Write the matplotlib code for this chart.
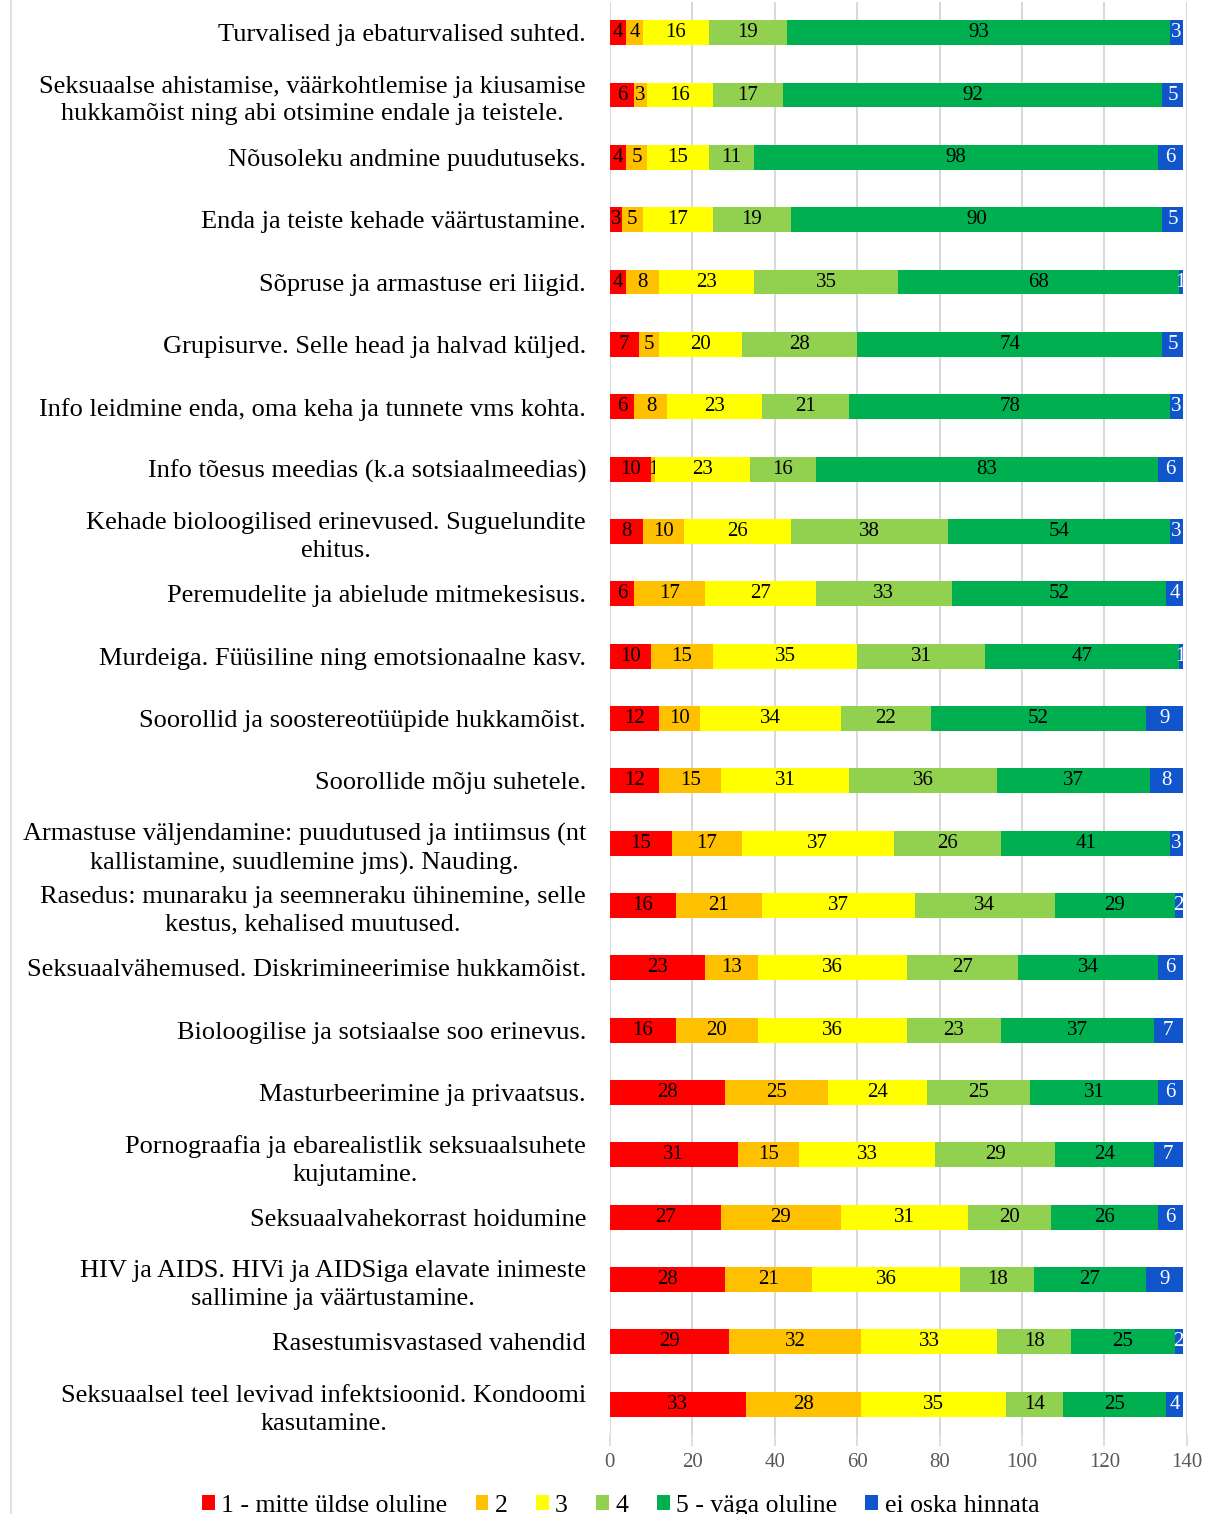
import matplotlib.pyplot as plt
import numpy as np
from matplotlib.lines import Line2D

categories = [
    "Turvalised ja ebaturvalised suhted.",
    "Seksuaalse ahistamise, väärkohtlemise ja kiusamise\nhukkamõist ning abi otsimine endale ja teistele.",
    "Nõusoleku andmine puudutuseks.",
    "Enda ja teiste kehade väärtustamine.",
    "Sõpruse ja armastuse eri liigid.",
    "Grupisurve. Selle head ja halvad küljed.",
    "Info leidmine enda, oma keha ja tunnete vms kohta.",
    "Info tõesus meedias (k.a sotsiaalmeedias)",
    "Kehade bioloogilised erinevused. Suguelundite\nehitus.",
    "Peremudelite ja abielude mitmekesisus.",
    "Murdeiga. Füüsiline ning emotsionaalne kasv.",
    "Soorollid ja soostereotüüpide hukkamõist.",
    "Soorollide mõju suhetele.",
    "Armastuse väljendamine: puudutused ja intiimsus (nt\nkallistamine, suudlemine jms). Nauding.",
    "Rasedus: munaraku ja seemneraku ühinemine, selle\nkestus, kehalised muutused.",
    "Seksuaalvähemused. Diskrimineerimise hukkamõist.",
    "Bioloogilise ja sotsiaalse soo erinevus.",
    "Masturbeerimine ja privaatsus.",
    "Pornograafia ja ebarealistlik seksuaalsuhete\nkujutamine.",
    "Seksuaalvahekorrast hoidumine",
    "HIV ja AIDS. HIVi ja AIDSiga elavate inimeste\nsallimine ja väärtustamine.",
    "Rasestumisvastased vahendid",
    "Seksuaalsel teel levivad infektsioonid. Kondoomi\nkasutamine.",
]

series_names = ["1 - mitte üldse oluline", "2", "3", "4", "5 - väga oluline", "ei oska hinnata"]

s1 = [4, 6, 4, 3, 4, 7, 6, 10, 8, 6, 10, 12, 12, 15, 16, 23, 16, 28, 31, 27, 28, 29, 33]
s2 = [4, 3, 5, 5, 8, 5, 8, 1, 10, 17, 15, 10, 15, 17, 21, 13, 20, 25, 15, 29, 21, 32, 28]
s3 = [16, 16, 15, 17, 23, 20, 23, 23, 26, 27, 35, 34, 31, 37, 37, 36, 36, 24, 33, 31, 36, 33, 35]
s4 = [19, 17, 11, 19, 35, 28, 21, 16, 38, 33, 31, 22, 36, 26, 34, 27, 23, 25, 29, 20, 18, 18, 14]
s5 = [93, 92, 98, 90, 68, 74, 78, 83, 54, 52, 47, 52, 37, 41, 29, 34, 37, 31, 24, 26, 27, 25, 25]
s6 = [3, 5, 6, 5, 1, 5, 3, 6, 3, 4, 1, 9, 8, 3, 2, 6, 7, 6, 7, 6, 9, 2, 4]

colors = ["#FF0000", "#FFC000", "#FFFF00", "#92D050", "#00B050", "#1155CC"]
label_colors = ["black", "black", "black", "black", "black", "white"]

plt.rcParams['font.family'] = ['Liberation Serif', 'DejaVu Serif']

fig = plt.figure(figsize=(12.05, 15.14), dpi=100)
ax = fig.add_axes([0.506, 0.052, 0.479, 0.947])

y = np.arange(len(categories))
left = np.zeros(len(categories))
for name, vals, c, lc in zip(series_names, [s1, s2, s3, s4, s5, s6], colors, label_colors):
    bars = ax.barh(y, vals, left=left, height=0.4, color=c, label=name, zorder=3)
    ax.bar_label(bars, labels=[str(v) for v in vals], label_type='center',
                 fontsize=15, color=lc)
    left += np.array(vals)

ax.set_ylim(len(categories) - 0.5, -0.5)
ax.set_xlim(0, 140)
ax.set_xticks(range(0, 141, 20))
ax.set_yticks(y)
ax.set_yticklabels(categories, fontsize=19, multialignment='center', linespacing=1.35)
ax.tick_params(axis='y', length=0, pad=17)
ax.tick_params(axis='x', colors='#D9D9D9', length=8, width=1.2, labelsize=15,
               labelcolor='#595959', pad=5)
ax.grid(axis='x', color='#D9D9D9', linewidth=1.5, zorder=0)
for side in ['top', 'right', 'bottom', 'left']:
    ax.spines[side].set_visible(False)

# left chart border
fig.add_artist(Line2D([0.009, 0.009], [0.0, 1.0], color='#D9D9D9', linewidth=1.2))

fig.legend(loc='lower center', ncol=6, bbox_to_anchor=(0.515, -0.017), frameon=False,
           fontsize=18.5, handlelength=0.5, handleheight=0.5, handletextpad=0.25,
           columnspacing=1.1)

fig.savefig('out.png', dpi=100)
